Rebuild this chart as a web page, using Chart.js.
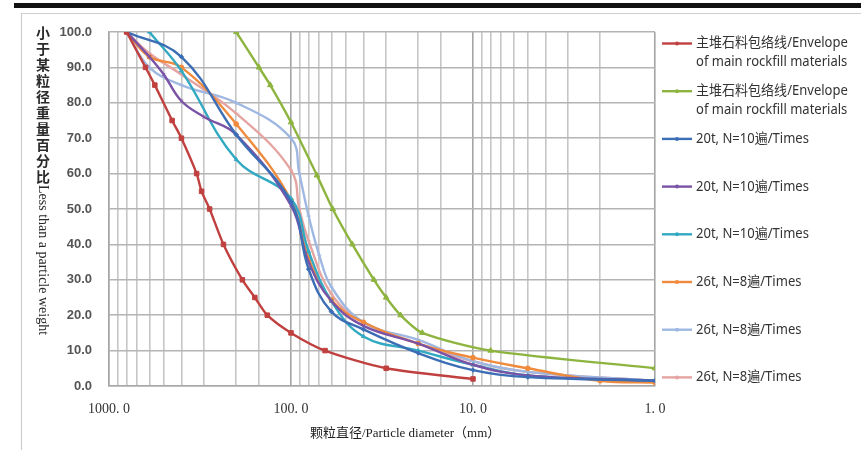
<!DOCTYPE html>
<html>
<head>
<meta charset="utf-8">
<script src="https://cdn.jsdelivr.net/npm/chart.js@4.4.1/dist/chart.umd.min.js"></script>
<style>
  html, body { margin: 0; padding: 0; background: #fff; }
  #wrap { position: relative; width: 861px; height: 450px; }
</style>
</head>
<body>
<div id="wrap"><canvas id="grading" width="861" height="450"></canvas></div>
<script>
// particle size (mm) / percent passing
const envLowSize = [800, 630, 560, 450, 400, 330, 310, 280, 235, 185, 158, 135, 100, 65, 30, 10];
const envLowPct  = [100, 90, 85, 75, 70, 60, 55, 50, 40, 30, 25, 20, 15, 10, 5, 2];

const envHighSize = [200, 150, 130, 100, 72, 59, 46, 35, 30, 25, 19, 8, 1];
const envHighPct  = [100, 90, 85, 74.5, 59.5, 50, 40, 30, 25, 20, 15, 10, 5];

const t20aSize = [800, 400, 200, 100, 80, 60, 40, 20, 10, 5, 1];
const t20aPct  = [100, 93, 71, 52, 33, 21, 16, 9.3, 4.5, 2.5, 1.5];

const t20bSize = [800, 600, 500, 400, 300, 200, 100, 80, 60, 40, 20, 10, 5, 1];
const t20bPct  = [100, 93, 88, 80.5, 76, 71, 51, 35, 24, 17, 12, 6, 3, 1.5];

const t20cSize = [600, 400, 200, 100, 80, 60, 40, 20, 10, 5, 1];
const t20cPct  = [100, 89, 64, 53, 38, 24, 14, 10, 6, 3, 1.5];

const t26aSize = [800, 600, 400, 200, 100, 80, 60, 40, 20, 10, 5, 2, 1];
const t26aPct  = [100, 93, 90, 74, 52.5, 36, 24.3, 18, 12, 8, 5, 1.5, 1];

const t26bSize = [800, 600, 400, 200, 100, 90, 80, 70, 60, 40, 20, 10, 5, 1];
const t26bPct  = [100, 90, 85, 80, 70, 60, 48, 37, 28, 18, 13, 7, 4, 1.5];

const t26cSize = [800, 600, 400, 200, 100, 90, 80, 60, 40, 20, 10, 5, 1];
const t26cPct  = [100, 94, 88, 77, 61, 50, 41, 26, 18, 12, 7, 4, 1.5];

const envLabel = ['主堆石料包络线/Envelope', 'of main rockfill materials'];
const t20Label = '20t, N=10遍/Times';
const t26Label = '26t, N=8遍/Times';
const xTitle = '颗粒直径/Particle diameter（mm）';
const yTitleCn = '小于某粒径重量百分比';
const yTitleEn = 'Less than a particle weight';
const decades = [1, 10, 100, 1000];

function pts(sizes, pcts) {
  return sizes.map((s, i) => ({ x: s, y: pcts[i] }));
}

function serie(label, sizes, pcts, color, style, radius, tension) {
  return {
    label: label,
    data: pts(sizes, pcts),
    showLine: true,
    borderColor: color,
    backgroundColor: color,
    borderWidth: 2.4,
    pointStyle: style,
    pointRadius: radius,
    pointBorderWidth: 1,
    tension: tension,
  };
}

const datasets = [
  serie(envLabel, envLowSize, envLowPct, '#c0403f', 'rect', 3.2, 0.25),
  serie(envLabel, envHighSize, envHighPct, '#8db43e', 'triangle', 3.2, 0.25),
  serie(t20Label, t20aSize, t20aPct, '#3c6eb6', 'rectRot', 2.2, 0.4),
  serie(t20Label, t20bSize, t20bPct, '#7a52a6', 'crossRot', 2.2, 0.4),
  serie(t20Label, t20cSize, t20cPct, '#32a9c2', 'triangle', 2.2, 0.4),
  serie(t26Label, t26aSize, t26aPct, '#f08a3c', 'circle', 2.4, 0.4),
  serie(t26Label, t26bSize, t26bPct, '#9fb8e2', 'cross', 2.2, 0.4),
  serie(t26Label, t26cSize, t26cPct, '#e4a4a2', 'line', 2.2, 0.4),
];

// frame, axis titles and the right-hand legend
const decorPlugin = {
  id: 'decor',
  beforeDraw(chart) {
    const ctx = chart.ctx;
    ctx.save();
    ctx.fillStyle = '#fff';
    ctx.fillRect(0, 0, chart.width, chart.height);
    ctx.fillStyle = '#111';
    ctx.fillRect(14, 3, chart.width - 14, 5);
    ctx.strokeStyle = '#cfcfcf';
    ctx.lineWidth = 1.2;
    ctx.beginPath();
    ctx.moveTo(21.5, chart.height);
    ctx.lineTo(21.5, 13.5);
    ctx.lineTo(chart.width, 13.5);
    ctx.stroke();
    ctx.restore();
  },
  afterDraw(chart) {
    const ctx = chart.ctx;
    ctx.save();
    // y title: stacked chinese, then rotated english
    ctx.fillStyle = '#2a2a2a';
    ctx.font = '600 14px "Noto Sans CJK SC"';
    ctx.textAlign = 'center';
    ctx.textBaseline = 'middle';
    for (let i = 0; i < yTitleCn.length; i++) {
      ctx.fillText(yTitleCn[i], 43, 33 + i * 16);
    }
    ctx.translate(43, 185);
    ctx.rotate(Math.PI / 2);
    ctx.font = '14px "Liberation Serif"';
    ctx.textAlign = 'left';
    ctx.fillText(yTitleEn, 0, 0);
    ctx.setTransform(1, 0, 0, 1, 0, 0);

    // x title
    ctx.font = '13px "Liberation Serif", "Noto Sans CJK SC"';
    ctx.textAlign = 'left';
    ctx.fillStyle = '#222';
    ctx.fillText(xTitle, 310, 434);

    // legend
    chart.data.datasets.forEach((ds, i) => {
      const y = 43.5 + i * 47.7;
      ctx.strokeStyle = ds.borderColor;
      ctx.lineWidth = 2.4;
      ctx.beginPath();
      ctx.moveTo(662, y);
      ctx.lineTo(692, y);
      ctx.stroke();
      ctx.fillStyle = ds.borderColor;
      ctx.beginPath();
      ctx.arc(677, y, 2, 0, Math.PI * 2);
      ctx.fill();
      const lines = Array.isArray(ds.label) ? ds.label : [ds.label];
      ctx.fillStyle = '#333';
      ctx.font = '14px "Noto Sans", "Noto Sans CJK SC"';
      ctx.textAlign = 'left';
      lines.forEach((txt, k) => {
        ctx.save();
        ctx.translate(696, y + k * 19);
        ctx.scale(0.93, 1);
        ctx.fillText(txt, 0, 0);
        ctx.restore();
      });
    });
    ctx.restore();
  }
};

new Chart(document.getElementById('grading'), {
  type: 'scatter',
  data: { datasets: datasets },
  options: {
    responsive: false,
    animation: false,
    layout: { padding: { left: 0, right: 206, top: 32, bottom: 0 } },
    plugins: {
      legend: { display: false },
      tooltip: { enabled: false },
    },
    scales: {
      x: {
        type: 'logarithmic',
        reverse: true,
        min: 1,
        max: 1000,
        afterFit(scale) { scale.height = 64; },
        border: { color: '#a8a8a8', width: 1.5 },
        grid: {
          drawTicks: false,
          lineWidth: 1.6,
          color(c) {
            const v = c.tick ? c.tick.value : 0;
            return decades.includes(v) ? '#a4a4a4' : '#c6c6c6';
          },
        },
        ticks: {
          autoSkip: false,
          maxRotation: 0,
          padding: 15,
          color: '#333',
          font: { family: '"Liberation Serif"', size: 14 },
          callback(value) {
            return decades.includes(value) ? value + '. 0' : '';
          },
        },
      },
      y: {
        min: 0,
        max: 100,
        afterFit(scale) { scale.width = 109; },
        border: { color: '#a8a8a8', width: 1.5 },
        grid: { drawTicks: false, lineWidth: 1.6, color: '#b4b4b4' },
        ticks: {
          stepSize: 10,
          padding: 17,
          color: '#555',
          font: { family: '"Liberation Sans"', size: 13, weight: 'bold' },
          callback(value) { return value.toFixed(1); },
        },
      },
    },
  },
  plugins: [decorPlugin],
});
</script>
</body>
</html>
